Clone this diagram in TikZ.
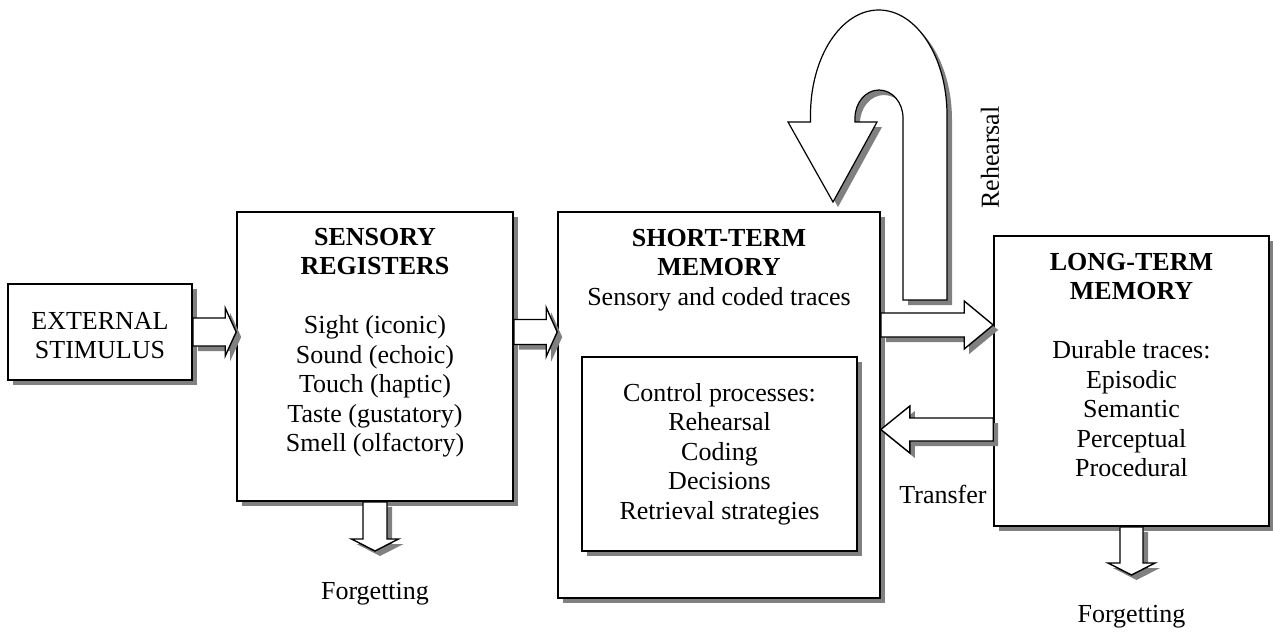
\documentclass[tikz,border=0pt]{standalone}
\usepackage{fontspec}
\setmainfont{Liberation Serif}
\usetikzlibrary{calc,shadows}

\tikzset{
  shade3d/.style={drop shadow={shadow xshift=5pt, shadow yshift=-5pt, fill=black!50, opacity=1}},
  box/.style={draw, line width=1.6pt, fill=white, shade3d, inner sep=0pt},
  txt/.style={align=center, inner sep=0pt, font=\fontsize{26}{29.5}\selectfont},
  fat/.style={draw, line width=1.4pt, fill=white, line join=miter, shade3d},
}

% block arrow: [opts]{from}{to}{shaft half width}{head half width}{head length}
\newcommand\fatarrow[6][]{%
  \coordinate (fa-h) at ($(#3)!#6!(#2)$);
  \path[fat,#1] ($(#2)!#4!90:(#3)$) -- ($(fa-h)!#4!90:(#3)$) -- ($(fa-h)!#5!90:(#3)$)
    -- (#3) -- ($(fa-h)!#5!-90:(#3)$) -- ($(fa-h)!#4!-90:(#3)$) -- ($(#2)!#4!-90:(#3)$) -- cycle;
}

\begin{document}
\begin{tikzpicture}[x=1pt,y=-1pt]
\useasboundingbox (0,0) rectangle (1273,632);

% boxes
\node[box, minimum width=184pt, minimum height=96pt]  (ext)  at (100,332)    {};
\node[box, minimum width=276pt, minimum height=289pt] (sens) at (375,356.5)  {};
\node[box, minimum width=322pt, minimum height=386pt] (stm)  at (719,405)    {};
\node[box, minimum width=275pt, minimum height=194pt] (ctl)  at (719.5,454)  {};
\node[box, minimum width=275pt, minimum height=290pt] (ltm)  at (1131.5,381) {};

% levels and free ends of the arrows
\coordinate (lvlA) at (0,325);
\coordinate (lvlB) at (0,429.5);
\coordinate (sf) at (375,551);
\coordinate (lf) at (1131.5,575);

% block arrows
\fatarrow{ext.east}{sens.west |- ext.east}{14pt}{24pt}{11pt}
\fatarrow{sens.east |- ext.east}{stm.west |- ext.east}{12.5pt}{24.5pt}{11pt}
\fatarrow{stm.east |- lvlA}{ltm.west |- lvlA}{12pt}{24pt}{29pt}
\fatarrow{ltm.west |- lvlB}{stm.east |- lvlB}{11.5pt}{23.5pt}{29pt}
\fatarrow{sens.south}{sf}{12pt}{23.5pt}{12pt}
\fatarrow{ltm.south}{lf}{11.5pt}{23.5pt}{12pt}

% rehearsal loop
\path[fat, line width=1.2pt] (947,300) -- (947,115)
  arc[start angle=0, end angle=180, x radius=68.25pt, y radius=105pt]
  -- (810.5,122) -- (788,122) -- (833,202) -- (877,122) -- (855,122) -- (855,118)
  arc[start angle=180, end angle=0, x radius=24pt, y radius=28pt]
  -- (903,300) -- cycle;

% texts
\node[txt, anchor=north] (extT) at (100,312) {EXTERNAL\\STIMULUS};
\node[txt, anchor=north] (sensT) at (375,228) {\textbf{SENSORY}\\\textbf{REGISTERS}\\[29.5pt]Sight (iconic)\\Sound (echoic)\\Touch (haptic)\\Taste (gustatory)\\Smell (olfactory)};
\node[txt, anchor=north] (stmT) at (719,229) {\textbf{SHORT-TERM}\\\textbf{MEMORY}\\Sensory and coded traces};
\node[txt, anchor=north] (ctlT) at (719.5,383) {Control processes:\\Rehearsal\\Coding\\Decisions\\Retrieval strategies};
\node[txt, anchor=north] (ltmT) at (1131.5,253) {\textbf{LONG-TERM}\\\textbf{MEMORY}\\[29.5pt]Durable traces:\\Episodic\\Semantic\\Perceptual\\Procedural};
\node[txt, rotate=90] (rehT) at (990,157.5) {Rehearsal};
\node[txt, anchor=base] (trT) at (943,503) {Transfer};
\node[txt, anchor=base] (sfT) at (375,599) {Forgetting};
\node[txt, anchor=base] (lfT) at (1131.5,622) {Forgetting};
\end{tikzpicture}
\end{document}
